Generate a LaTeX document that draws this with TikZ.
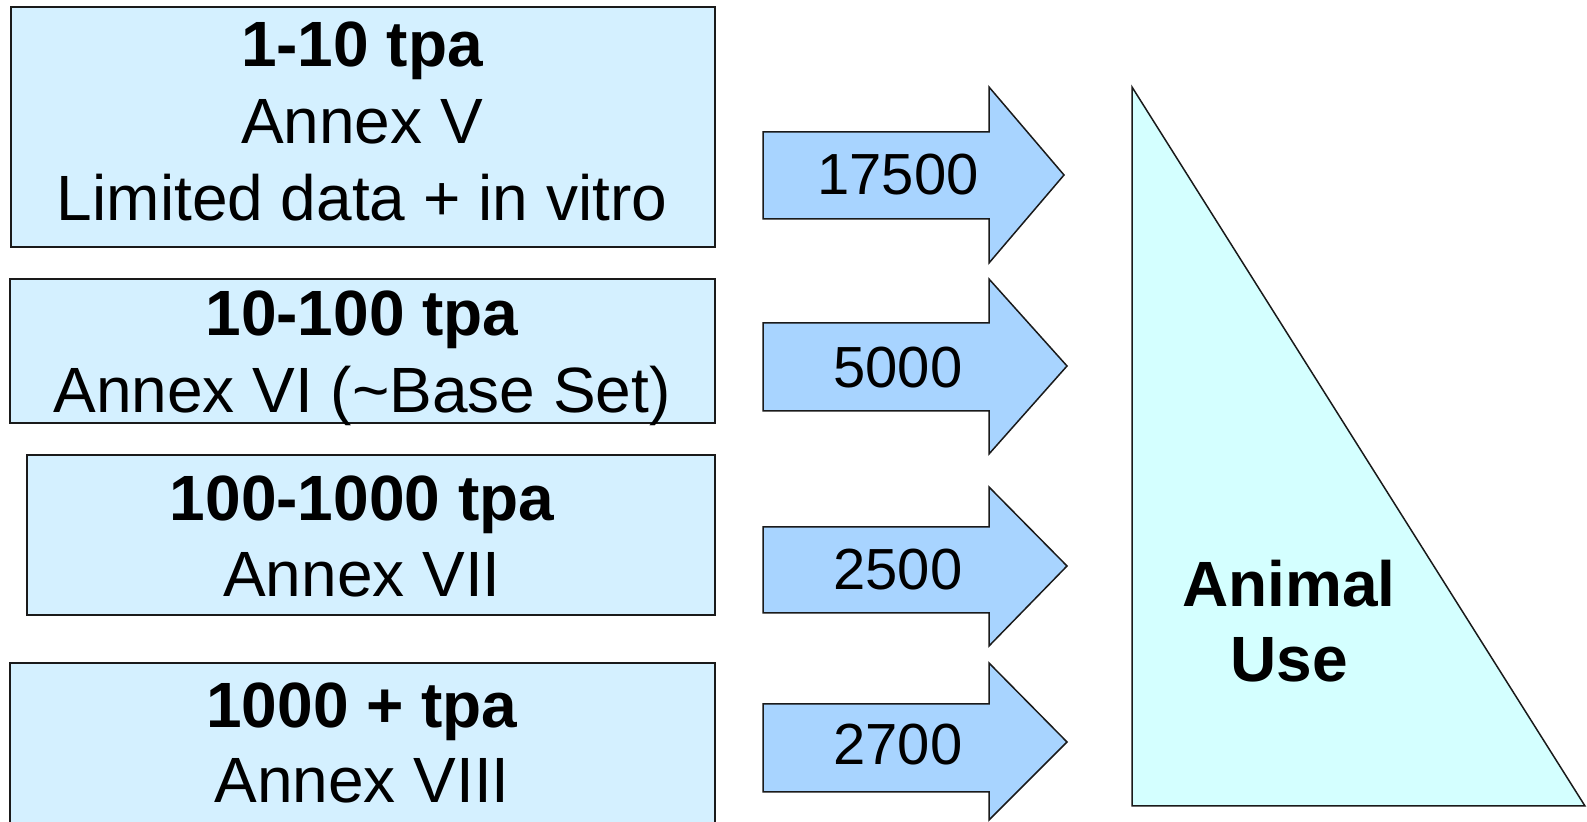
\documentclass[tikz,border=0pt]{standalone}
\usepackage{fontspec}
\setmainfont{Liberation Sans}
\definecolor{boxfill}{HTML}{D4F0FF}
\definecolor{arrfill}{HTML}{A8D4FF}
\definecolor{trifill}{HTML}{D4FFFF}
\definecolor{edge}{HTML}{1A1A1A}
\newcommand\blockarrow[6]{%
  \draw[arr] (763,#1) -- (989,#1) -- (989,#3) -- (#5,#6) -- (989,#4) -- (989,#2) -- (763,#2) -- cycle;}
\begin{document}
\begin{tikzpicture}[x=0.5pt,y=-0.5pt,
  box/.style={draw=edge, line width=1.1pt, fill=boxfill},
  arr/.style={draw=edge, line width=0.75pt, fill=arrfill, line join=miter},
  tri/.style={draw=edge, line width=0.75pt, fill=trifill, line join=miter},
  headtxt/.style={font=\fontsize{32}{38}\selectfont\bfseries, anchor=base, inner sep=0pt},
  bodytxt/.style={font=\fontsize{32}{38}\selectfont, anchor=base, inner sep=0pt},
  numtxt/.style={font=\fontsize{29}{35}\selectfont, inner sep=0pt}]
\useasboundingbox (0,0) rectangle (1587,822);
\clip (0,0) rectangle (1587,822);
\fill[white] (0,0) rectangle (1587,822);

% boxes
\draw[box] (11,7) rectangle (715,247);
\draw[box] (10,279) rectangle (715,423);
\draw[box] (27,455) rectangle (715,615);
\draw[box] (10,663) rectangle (715,840);

% box texts
\node[headtxt] (t1a) at (362,67) {1-10 tpa};
\node[bodytxt] (t1b) at (362,144) {Annex V};
\node[bodytxt] (t1c) at (362,221) {Limited data + in vitro};

\node[headtxt] (t2a) at (362,336) {10-100 tpa};
\node[bodytxt] (t2b) at (362,413) {Annex VI (\textasciitilde Base Set)};

\node[headtxt] (t3a) at (362,521) {100-1000 tpa};
\node[bodytxt] (t3b) at (362,597) {Annex VII};

\node[headtxt] (t4a) at (362,728) {1000 + tpa};
\node[bodytxt] (t4b) at (362,803) {Annex VIII};

% block arrows
\blockarrow{132}{219}{87}{263}{1064}{175}
\blockarrow{323}{411}{279}{454}{1067}{366}
\blockarrow{527}{613}{487}{646}{1067}{566}
\blockarrow{704}{792}{663}{820}{1067}{742}

\node[numtxt] (n1) at (898,175) {17500};
\node[numtxt] (n2) at (898,368) {5000};
\node[numtxt] (n3) at (898,570) {2500};
\node[numtxt] (n4) at (898,745) {2700};

% triangle
\draw[tri] (1132,87) -- (1132,806) -- (1585,806) -- cycle;
\node[headtxt] (au1) at (1289,607) {Animal};
\node[headtxt] (au2) at (1289,682) {Use};
\end{tikzpicture}
\end{document}
